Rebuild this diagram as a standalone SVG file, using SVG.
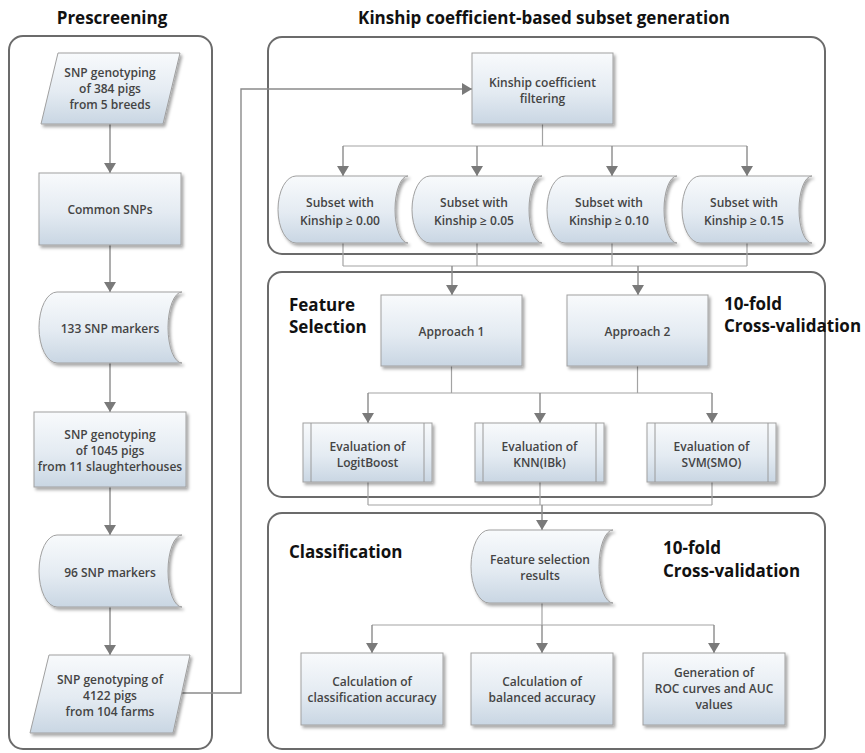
<svg xmlns="http://www.w3.org/2000/svg" width="865" height="753" viewBox="0 0 865 753">
<defs>
<linearGradient id="g" x1="0" y1="0" x2="0" y2="1">
<stop offset="0" stop-color="#f8fafc"/>
<stop offset="0.55" stop-color="#e4ebf2"/>
<stop offset="1" stop-color="#c9d6e3"/>
</linearGradient>
<filter id="sh" x="-10%" y="-10%" width="125%" height="130%">
<feDropShadow dx="2" dy="2.5" stdDeviation="1.6" flood-color="#000" flood-opacity="0.35"/>
</filter>
<marker id="ar" viewBox="0 0 10 12" refX="10" refY="6" markerWidth="10" markerHeight="12" markerUnits="userSpaceOnUse" orient="auto">
<path d="M0,0 L10,6 L0,12 Z" fill="#7a7a7a"/>
</marker>
<style>
.panel{fill:none;stroke:#6b6b6b;stroke-width:2}
.box{fill:url(#g);stroke:#a0a0a0;stroke-width:1;filter:url(#sh)}
.in{fill:none;stroke:#9a9a9a;stroke-width:1}
.t{font-family:"Open Sans","Liberation Sans",sans-serif;font-size:12px;font-weight:600;fill:#444;text-anchor:middle}
.h{font-family:"Open Sans","Liberation Sans",sans-serif;font-size:17px;font-weight:700;fill:#111}
.c{fill:none;stroke:#a3a3a3;stroke-width:1.2}
.a{fill:none;stroke:#8a8a8a;stroke-width:1.4;marker-end:url(#ar)}
</style>
</defs>
<rect width="865" height="753" fill="#fff"/>

<g id="panels">
<rect class="panel" x="9" y="36" width="203" height="713" rx="14"/>
<rect class="panel" x="268" y="37" width="557" height="217" rx="14"/>
<rect class="panel" x="268" y="272" width="557" height="225" rx="14"/>
<rect class="panel" x="268" y="513" width="557" height="236" rx="14"/>
</g>

<g id="headings">
<text class="h" x="112" y="24" text-anchor="middle">Prescreening</text>
<text class="h" x="544" y="24" text-anchor="middle">Kinship coefficient-based subset generation</text>
<text class="h" x="289" y="311">Feature</text>
<text class="h" x="289" y="333">Selection</text>
<text class="h" x="724" y="310">10-fold</text>
<text class="h" x="724" y="332">Cross-validation</text>
<text class="h" x="289" y="558">Classification</text>
<text class="h" x="663" y="554">10-fold</text>
<text class="h" x="663" y="577">Cross-validation</text>
</g>

<g id="connectors">
<path class="a" d="M110,124 V173"/>
<path class="a" d="M110,245 V292"/>
<path class="a" d="M110,363 V412"/>
<path class="a" d="M110,487 V535"/>
<path class="a" d="M110,607 V655"/>
<path class="a" d="M182,693 H241 V89 H472"/>
<path class="c" d="M542.5,124 V146 M343,146 H747"/>
<path class="a" d="M343,146 V176"/>
<path class="a" d="M477,146 V176"/>
<path class="a" d="M612,146 V176"/>
<path class="a" d="M747,146 V176"/>
<path class="c" d="M343,243 V266 M477,243 V266 M612,243 V266 M747,243 V266 M343,266 H747"/>
<path class="a" d="M452,266 V295"/>
<path class="a" d="M638,266 V295"/>
<path class="c" d="M451.5,366 V393 M637.5,366 V393 M368,393 H712"/>
<path class="a" d="M368,393 V423"/>
<path class="a" d="M540,393 V423"/>
<path class="a" d="M712,393 V423"/>
<path class="c" d="M368,482 V505 M540,482 V505 M712,482 V505 M368,505 H712"/>
<path class="a" d="M542,505 V530"/>
<path class="c" d="M542,603 V625 M372,625 H714"/>
<path class="a" d="M372,625 V653"/>
<path class="a" d="M542,625 V653"/>
<path class="a" d="M714,625 V653"/>
</g>

<g id="n-snp384">
<polygon class="box" points="58,53 180,53 163,124 41,124"/>
<text class="t" x="110" y="77">SNP genotyping</text>
<text class="t" x="110" y="93">of 384 pigs</text>
<text class="t" x="110" y="109">from 5 breeds</text>
</g>
<g id="n-common">
<rect class="box" x="39" y="173" width="142" height="72"/>
<text class="t" x="110" y="214">Common SNPs</text>
</g>
<g id="n-133">
<path class="box" d="M57,292 H182 A14,35.5 0 0 0 182,363 H57 A18,35.5 0 0 1 57,292 Z"/>
<text class="t" x="110" y="333">133 SNP markers</text>
</g>
<g id="n-snp1045">
<rect class="box" x="34" y="412" width="152" height="75"/>
<text class="t" x="110" y="439">SNP genotyping</text>
<text class="t" x="110" y="455">of 1045 pigs</text>
<text class="t" x="110" y="471">from 11 slaughterhouses</text>
</g>
<g id="n-96">
<path class="box" d="M57,535 H182 A14,36 0 0 0 182,607 H57 A18,36 0 0 1 57,535 Z"/>
<text class="t" x="110" y="577">96 SNP markers</text>
</g>
<g id="n-snp4122">
<polygon class="box" points="49,655 190,655 173,733 30,733"/>
<text class="t" x="110" y="684">SNP genotyping of</text>
<text class="t" x="110" y="700">4122 pigs</text>
<text class="t" x="110" y="716">from 104 farms</text>
</g>

<g id="n-kinship">
<rect class="box" x="472" y="53" width="141" height="71"/>
<text class="t" x="542.5" y="87">Kinship coefficient</text>
<text class="t" x="542.5" y="103">filtering</text>
</g>
<g id="n-sub000">
<path class="box" d="M296,176 H408 A13,33.5 0 0 0 408,243 H296 A18,33.5 0 0 1 296,176 Z"/>
<text class="t" x="340" y="207">Subset with</text>
<text class="t" x="340" y="225">Kinship ≥ 0.00</text>
</g>
<g id="n-sub005">
<path class="box" d="M430,176 H542 A13,33.5 0 0 0 542,243 H430 A18,33.5 0 0 1 430,176 Z"/>
<text class="t" x="474" y="207">Subset with</text>
<text class="t" x="474" y="225">Kinship ≥ 0.05</text>
</g>
<g id="n-sub010">
<path class="box" d="M565,176 H677 A13,33.5 0 0 0 677,243 H565 A18,33.5 0 0 1 565,176 Z"/>
<text class="t" x="609" y="207">Subset with</text>
<text class="t" x="609" y="225">Kinship ≥ 0.10</text>
</g>
<g id="n-sub015">
<path class="box" d="M700,176 H812 A13,33.5 0 0 0 812,243 H700 A18,33.5 0 0 1 700,176 Z"/>
<text class="t" x="744" y="207">Subset with</text>
<text class="t" x="744" y="225">Kinship ≥ 0.15</text>
</g>

<g id="n-approach1">
<rect class="box" x="381" y="295" width="141" height="71"/>
<text class="t" x="451.5" y="336">Approach 1</text>
</g>
<g id="n-approach2">
<rect class="box" x="567" y="295" width="141" height="71"/>
<text class="t" x="637.5" y="336">Approach 2</text>
</g>
<g id="n-logit">
<rect class="box" x="303" y="423" width="129" height="59"/>
<path class="in" d="M311,423 V482 M424,423 V482"/>
<text class="t" x="367.5" y="451">Evaluation of</text>
<text class="t" x="367.5" y="467">LogitBoost</text>
</g>
<g id="n-knn">
<rect class="box" x="475" y="423" width="129" height="59"/>
<path class="in" d="M483,423 V482 M596,423 V482"/>
<text class="t" x="539.5" y="451">Evaluation of</text>
<text class="t" x="539.5" y="467">KNN(IBk)</text>
</g>
<g id="n-svm">
<rect class="box" x="647" y="423" width="129" height="59"/>
<path class="in" d="M655,423 V482 M768,423 V482"/>
<text class="t" x="711.5" y="451">Evaluation of</text>
<text class="t" x="711.5" y="467">SVM(SMO)</text>
</g>

<g id="n-fsresults">
<path class="box" d="M489,530 H613 A14,36.5 0 0 0 613,603 H489 A18,36.5 0 0 1 489,530 Z"/>
<text class="t" x="540" y="564">Feature selection</text>
<text class="t" x="540" y="580">results</text>
</g>
<g id="n-classacc">
<rect class="box" x="301" y="653" width="142" height="72"/>
<text class="t" x="372" y="686">Calculation of</text>
<text class="t" x="372" y="702">classification accuracy</text>
</g>
<g id="n-balacc">
<rect class="box" x="471" y="653" width="142" height="72"/>
<text class="t" x="542" y="686">Calculation of</text>
<text class="t" x="542" y="702">balanced  accuracy</text>
</g>
<g id="n-roc">
<rect class="box" x="643" y="653" width="142" height="72"/>
<text class="t" x="714" y="677">Generation of</text>
<text class="t" x="714" y="693">ROC curves and AUC</text>
<text class="t" x="714" y="709">values</text>
</g>
</svg>
